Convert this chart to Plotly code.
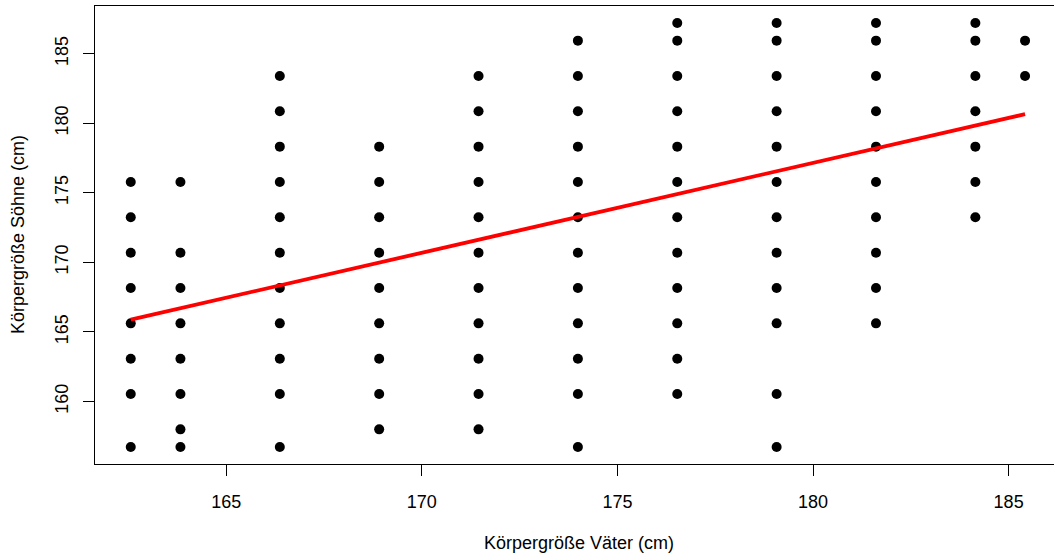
import plotly.graph_objects as go

# Unique (father, son) height combinations in cm (Galton data converted to cm)
vater = (
    [162.56] * 8 + [163.83] * 8 + [166.37] * 11 + [168.91] * 9 + [171.45] * 11
    + [173.99] * 12 + [176.53] * 12 + [179.07] * 12 + [181.61] * 10 + [184.15] * 7
    + [185.42] * 2
)
sohn = (
    [175.77, 173.23, 170.69, 168.15, 165.61, 163.07, 160.53, 156.72]
    + [175.77, 170.69, 168.15, 165.61, 163.07, 160.53, 157.99, 156.72]
    + [183.39, 180.85, 178.31, 175.77, 173.23, 170.69, 168.15, 165.61, 163.07, 160.53, 156.72]
    + [178.31, 175.77, 173.23, 170.69, 168.15, 165.61, 163.07, 160.53, 157.99]
    + [183.39, 180.85, 178.31, 175.77, 173.23, 170.69, 168.15, 165.61, 163.07, 160.53, 157.99]
    + [185.93, 183.39, 180.85, 178.31, 175.77, 173.23, 170.69, 168.15, 165.61, 163.07, 160.53, 156.72]
    + [187.20, 185.93, 183.39, 180.85, 178.31, 175.77, 173.23, 170.69, 168.15, 165.61, 163.07, 160.53]
    + [187.20, 185.93, 183.39, 180.85, 178.31, 175.77, 173.23, 170.69, 168.15, 165.61, 160.53, 156.72]
    + [187.20, 185.93, 183.39, 180.85, 178.31, 175.77, 173.23, 170.69, 168.15, 165.61]
    + [187.20, 185.93, 183.39, 180.85, 178.31, 175.77, 173.23]
    + [185.93, 183.39]
)

# Regression line (lm son ~ father)
intercept = 60.81
slope = 0.6463

x_ticks = [165, 170, 175, 180, 185]
y_ticks = [160, 165, 170, 175, 180, 185]

FONT = "Liberation Sans, Arial, Helvetica, sans-serif"
FS = 18

x_line = [min(vater), max(vater)]
y_line = [intercept + slope * v for v in x_line]

fig = go.Figure()
fig.add_trace(go.Scatter(
    x=vater, y=sohn, mode="markers",
    marker=dict(color="black", size=10, line=dict(width=0)),
    showlegend=False, hoverinfo="x+y",
))
fig.add_trace(go.Scatter(
    x=x_line, y=y_line, mode="lines",
    line=dict(color="#ff0000", width=3.8),
    showlegend=False,
))

L, T, B = 95, 6, 91
plot_w = 1054 - L
plot_h = 555 - T - B

fig.update_layout(
    width=1054, height=555, autosize=False,
    margin=dict(l=L, r=0, t=T, b=B, pad=0),
    paper_bgcolor="white", plot_bgcolor="white",
    font=dict(family=FONT, size=FS, color="black"),
    xaxis=dict(
        range=[161.646, 186.16], tickvals=x_ticks, automargin=False,
        showgrid=False, zeroline=False,
        showline=True, linecolor="black", linewidth=1, mirror=True,
        ticks="outside", ticklen=11, tickwidth=1, tickcolor="black",
        tickfont=dict(size=FS), ticklabelstandoff=10,
    ),
    yaxis=dict(
        range=[155.50, 188.42], tickvals=y_ticks, automargin=False,
        showgrid=False, zeroline=False,
        showline=True, linecolor="black", linewidth=1, mirror=False,
        ticks="outside", ticklen=11, tickwidth=1, tickcolor="black",
        tickangle=-90, tickfont=dict(size=FS), ticklabelstandoff=8,
    ),
    annotations=[
        dict(text="Körpergröße Väter (cm)",
             x=(579 - L) / plot_w, y=-(543 - (555 - B)) / plot_h,
             xref="x domain", yref="y domain", showarrow=False,
             xanchor="center", yanchor="middle", font=dict(size=FS)),
        dict(text="Körpergröße Söhne (cm)",
             x=(18 - L) / plot_w, y=0.5,
             xref="x domain", yref="y domain", showarrow=False, textangle=-90,
             xanchor="center", yanchor="middle", font=dict(size=FS)),
    ],
)

fig.write_html(
    "out.html",
    config={"displayModeBar": False},
    post_script="document.body.style.margin='0';document.body.style.overflow='hidden';",
)
